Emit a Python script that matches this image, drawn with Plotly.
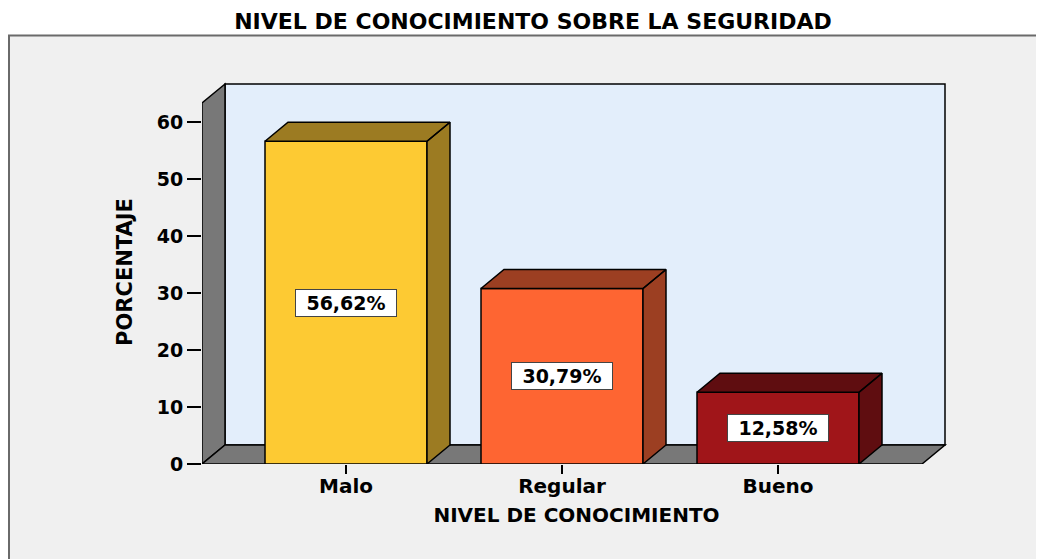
import plotly.graph_objects as go

# ---- data ----
categories = ["Malo", "Regular", "Bueno"]
percentages = [56.62, 30.79, 12.58]
labels = ["56,62%", "30,79%", "12,58%"]
front_colors = ["#fdca33", "#fe6532", "#a01519"]
side_colors = ["#9c7b22", "#9c3f22", "#5f0d10"]
y_ticks = [0, 10, 20, 30, 40, 50, 60]

# ---- 3D geometry (axis units) ----
BAR_W = 0.75
DX = 23 / 216      # depth offset in x units
DY = 19 / 5.7      # depth offset in y units
X_LEFT, X_RIGHT = -2 / 3, 2 + 2 / 3
WALL_TOP = 63.33

FONT = "DejaVu Sans"

fig = go.Figure()

# bar fronts
xs = list(range(len(categories)))
fig.add_trace(go.Bar(
    x=xs, y=percentages, width=BAR_W,
    marker=dict(color=front_colors, line=dict(color="black", width=1.5)),
    hoverinfo="skip", showlegend=False,
))

# bar side + top faces
for i, v in enumerate(percentages):
    l, r = i - BAR_W / 2, i + BAR_W / 2
    px = [r, r, r + DX, r + DX, r, None, l, r, r + DX, l + DX, l]
    py = [0, v, v + DY, DY, 0, None, v, v, v + DY, v + DY, v]
    fig.add_trace(go.Scatter(
        x=px, y=py, mode="lines", fill="toself", fillcolor=side_colors[i],
        line=dict(color="black", width=1.5), hoverinfo="skip", showlegend=False,
    ))

W, H = 1044, 559
L, T = 194, 72
PW, PH = 749, 384
R = W - L - PW
B = H - T - PH
x_end = X_LEFT + PW / 216
y_end = PH / 5.7

shapes = []
# outer frame
shapes.append(dict(type="rect", xref="paper", yref="paper",
                   x0=(1 - L) / PW, x1=1.3, y0=-0.4, y1=(T + PH - 27.5) / PH,
                   fillcolor="#f0f0f0", line=dict(color="#6a6a6a", width=2),
                   layer="below"))
# back wall
shapes.append(dict(type="rect", xref="x", yref="y",
                   x0=X_LEFT + DX, x1=X_RIGHT + DX, y0=DY, y1=WALL_TOP + DY,
                   fillcolor="#e3eefb", line=dict(color="black", width=1.5),
                   layer="below"))
# left wall
shapes.append(dict(type="path", xref="x", yref="y",
                   path=f"M {X_LEFT},0 L {X_LEFT},{WALL_TOP} L {X_LEFT + DX},{WALL_TOP + DY} L {X_LEFT + DX},{DY} Z",
                   fillcolor="#787878", line=dict(color="black", width=1.5),
                   layer="below"))
# floor
shapes.append(dict(type="path", xref="x", yref="y",
                   path=f"M {X_LEFT},0 L {X_RIGHT},0 L {X_RIGHT + DX},{DY} L {X_LEFT + DX},{DY} Z",
                   fillcolor="#787878", line=dict(color="black", width=1.5),
                   layer="below"))

annotations = []
for i, (v, t) in enumerate(zip(percentages, labels)):
    annotations.append(dict(
        x=i, y=v / 2, xref="x", yref="y", text=t, showarrow=False,
        font=dict(family=FONT, size=19, color="black", weight="bold"),
        bgcolor="white", bordercolor="#444444", borderwidth=1,
        width=98, height=24, borderpad=1,
    ))

fig.update_layout(
    width=W, height=H,
    margin=dict(l=L, r=R, t=T, b=B, autoexpand=False),
    paper_bgcolor="white", plot_bgcolor="#f0f0f0",
    title=dict(text="NIVEL DE CONOCIMIENTO SOBRE LA SEGURIDAD",
               x=525 / W, xanchor="center", xref="container",
               y=1 - 13 / H, yanchor="middle", yref="container",
               font=dict(family=FONT, size=22, color="black", weight="bold")),
    shapes=shapes, annotations=annotations,
    xaxis=dict(range=[X_LEFT, x_end], tickvals=xs, ticktext=categories,
               ticks="outside", ticklen=9, tickwidth=1.5, tickcolor="black",
               ticklabelstandoff=-5,
               showgrid=False, zeroline=False, showline=False,
               tickfont=dict(family=FONT, size=20, color="black", weight="bold"),
               title=dict(text="NIVEL DE CONOCIMIENTO", standoff=10,
                          font=dict(family=FONT, size=20, color="black", weight="bold")),
               automargin=False, fixedrange=True),
    yaxis=dict(range=[0, y_end], tickvals=y_ticks,
               ticks="outside", ticklen=14, tickwidth=1.5, tickcolor="black",
               showgrid=False, zeroline=False, showline=False,
               tickfont=dict(family=FONT, size=19, color="black", weight="bold"),
               title=dict(text="PORCENTAJE", standoff=18,
                          font=dict(family=FONT, size=21, color="black", weight="bold")),
               automargin=False, fixedrange=True),
)

fig.write_html("out.html")
